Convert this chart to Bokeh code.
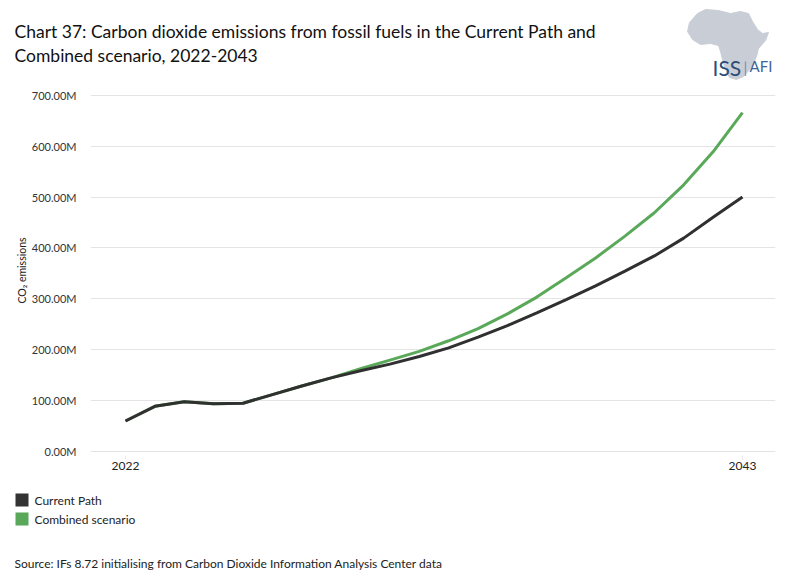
from bokeh.plotting import figure
from bokeh.layouts import column
from bokeh.models import (Range1d, FixedTicker, CustomJSTickFormatter, ColumnDataSource)
from bokeh.core.properties import value
from bokeh.embed import file_html
from bokeh.resources import INLINE

# ---- data (CO2 emissions, million tonnes) ----
years = list(range(2022, 2044))
current_path = [59, 88, 97, 93, 94, 111, 128, 144, 158, 171, 186, 203, 224, 247, 272, 298,
                325, 354, 384, 419, 460, 500]
combined = [59, 88, 97, 93, 94, 111, 128, 144, 162, 179, 196, 217, 241, 270, 303, 341,
            380, 423, 469, 524, 589, 666]
y_ticks = [0, 100, 200, 300, 400, 500, 600, 700]
x_ticks = [2022, 2043]
series_names = ["Current Path", "Combined scenario"]
title_lines = ["Chart 37: Carbon dioxide emissions from fossil fuels in the Current Path and",
               "Combined scenario, 2022-2043"]
source_text = "Source: IFs 8.72 initialising from Carbon Dioxide Information Analysis Center data"

FONT = "Lato"
BLACK = "#303030"
GREEN = "#5aa95a"
SW_BLACK = "#333333"
SW_GREEN = "#59a859"
W = 786

def strip(height, top_px):
    f = figure(width=W, height=height, output_backend="svg", toolbar_location=None,
               x_range=Range1d(0, W), y_range=Range1d(top_px + height, top_px),
               x_axis_type=None, y_axis_type=None, min_border=0,
               background_fill_color="white", border_fill_color="white")
    f.outline_line_color = None
    f.grid.visible = False
    return f

# ================= top strip: title + logo =================
TOP_H = 80
top = strip(TOP_H, 0)
top.text([14, 14], [31, 55], text=title_lines, text_font=value(FONT),
         text_font_size="17.5px", text_color="#111111", text_baseline="alphabetic")

africa_px = [(697, 13), (705, 9), (718, 10), (730, 13), (740, 11), (748, 13), (752, 21),
             (757, 29), (762, 33), (768, 32), (765, 40), (758, 48), (756, 56), (753, 63),
             (749, 69), (743, 76), (736, 79), (729, 77), (725, 69), (722, 59), (720, 51),
             (718, 45), (710, 43), (700, 44), (692, 39), (687, 31), (689, 22)]
top.patch([a for a, b in africa_px], [b for a, b in africa_px],
          fill_color="#c9ced6", line_color="#c9ced6")
top.text([712], [67], text=["ISS"], text_font=value(FONT), text_font_size="21px",
         text_color="#2c4d7a", text_baseline="alphabetic")
top.text([743], [66], text=["|"], text_font=value(FONT), text_font_size="15px",
         text_color="#6f8db3", text_baseline="alphabetic")
top.text([749], [65.5], text=["AFI"], text_font=value(FONT), text_font_size="15px",
         text_color="#3d6498", text_baseline="alphabetic")

# ================= main chart =================
MID_H = 400
BL, BR, BT, BB = 90, 11, 5, 25
frame_w = W - BL - BR
frame_h = MID_H - BT - BB
px_per_year = 29.38
x0 = 2022 - 35 / px_per_year
x1 = x0 + frame_w / px_per_year
px_per_m = 0.508
y0 = -4.5 / px_per_m
y1 = y0 + frame_h / px_per_m

p = figure(width=W, height=MID_H, output_backend="svg", toolbar_location=None,
           x_range=Range1d(x0, x1), y_range=Range1d(y0, y1),
           min_border_left=BL, min_border_right=BR, min_border_top=BT, min_border_bottom=BB,
           background_fill_color="white", border_fill_color="white")
p.outline_line_color = None
p.xgrid.visible = False
p.ygrid.grid_line_color = "#e4e4e4"
p.ygrid.grid_line_width = 1

p.yaxis.ticker = FixedTicker(ticks=y_ticks)
p.yaxis.formatter = CustomJSTickFormatter(code="return tick.toFixed(2) + 'M';")
p.yaxis.axis_line_color = None
p.yaxis.major_tick_line_color = None
p.yaxis.minor_tick_line_color = None
p.yaxis.major_label_text_font = FONT
p.yaxis.major_label_text_font_size = "11px"
p.yaxis.major_label_text_color = "#333333"
p.yaxis.major_label_standoff = 8
p.yaxis.axis_label = "CO₂ emissions"
p.yaxis.axis_label_text_font = FONT
p.yaxis.axis_label_text_font_size = "10.5px"
p.yaxis.axis_label_text_font_style = "normal"
p.yaxis.axis_label_text_color = "#222222"
p.yaxis.axis_label_standoff = 1

p.xaxis.ticker = FixedTicker(ticks=x_ticks)
p.xaxis.axis_line_color = None
p.xaxis.major_tick_line_color = "#e8e8e8"
p.xaxis.major_tick_out = 4
p.xaxis.major_tick_in = 0
p.xaxis.minor_tick_line_color = None
p.xaxis.major_label_text_font = FONT
p.xaxis.major_label_text_font_size = "12px"
p.xaxis.major_label_text_color = "#222222"
p.xaxis.major_label_standoff = 2

src = ColumnDataSource(dict(year=years, cp=current_path, cs=combined))
p.line("year", "cs", source=src, line_color=GREEN, line_width=3)
p.line("year", "cp", source=src, line_color=BLACK, line_width=3)

# ================= bottom strip: legend + source =================
BOT_TOP = 480
BOT_H = 587 - BOT_TOP
bot = strip(BOT_H, BOT_TOP)
# legend swatches and labels (layout positions, in strip pixels)
bot.rect([21.5, 21.5], [499.5, 518.5], width=13, height=13,
         fill_color=[SW_BLACK, SW_GREEN], line_color=None)
bot.text([34, 34], [500, 519], text=series_names, text_font=value(FONT),
         text_font_size="12px", text_color="#222222", text_baseline="middle")
bot.text([14], [563], text=[source_text], text_font=value(FONT), text_font_size="12px",
         text_color="#222222", text_baseline="middle")

layout = column(column(top), p, column(bot), spacing=0)
open("out.html", "w").write(file_html(layout, INLINE))
